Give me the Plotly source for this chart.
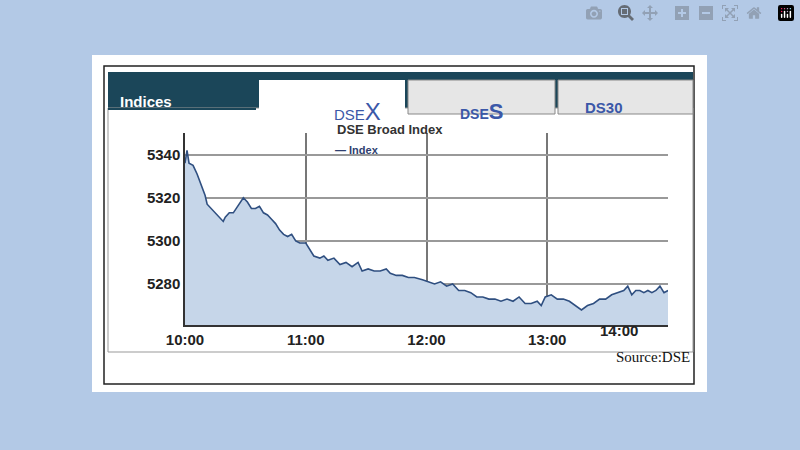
import plotly.graph_objects as go

times = ["10:00","10:01","10:02","10:04","10:06","10:08","10:10","10:11","10:13","10:15","10:17","10:19","10:20","10:22","10:24","10:26","10:28","10:29","10:31","10:33","10:35","10:37","10:39","10:41","10:43","10:45","10:47","10:49","10:51","10:53","10:55","10:57","11:00","11:02","11:04","11:07","11:09","11:11","11:14","11:17","11:20","11:23","11:26","11:28","11:31","11:34","11:37","11:40","11:42","11:45","11:48","11:51","11:54","11:58","12:01","12:04","12:07","12:10","12:13","12:16","12:19","12:22","12:25","12:28","12:31","12:34","12:37","12:40","12:43","12:46","12:49","12:52","12:55","12:57","12:59","13:02","13:05","13:08","13:11","13:14","13:17","13:20","13:23","13:26","13:29","13:32","13:35","13:38","13:40","13:42","13:44","13:46","13:48","13:50","13:52","13:54","13:56","13:58","14:00"]
values = [5336,5342,5336,5335,5331,5326,5321,5317,5315,5313,5311,5309,5311,5313,5313,5316,5319,5320,5318,5315,5315,5316,5313,5312,5310,5308,5305,5303,5302,5303,5300,5299,5299,5296,5293,5292,5293,5291,5292,5289,5290,5288,5290,5286,5287,5286,5286,5287,5285,5284,5284,5283,5283,5282,5281,5280,5281,5279,5280,5277,5277,5276,5274,5274,5273,5273,5272,5273,5272,5274,5271,5271,5272,5270,5274,5275,5273,5273,5272,5270,5268,5270,5271,5273,5273,5275,5276,5277,5279,5275,5277,5277,5276,5277,5276,5277,5279,5276,5277]
y_ticks = [5280, 5300, 5320, 5340]
x_tick_labels = ["10:00", "11:00", "12:00", "13:00"]

xs = ["2024-01-01 " + t for t in times]

L, R, T, B = 185, 668, 133, 325
def px(X): return (X - L) / (R - L)
def py(Y): return (B - Y) / (B - T)

fig = go.Figure()
fig.add_trace(go.Scatter(x=xs, y=values, mode="lines", fill="tozeroy",
                         fillcolor="#c6d6e9", line=dict(color="#2f4f80", width=1.6),
                         showlegend=False))

shapes = []
def rect(x0, y0, x1, y1, fill, line="rgba(0,0,0,0)", w=0, layer="below"):
    shapes.append(dict(type="rect", xref="paper", yref="paper", x0=px(x0), x1=px(x1),
                       y0=py(y1), y1=py(y0), fillcolor=fill, line=dict(color=line, width=w), layer=layer))

rect(92, 55, 707, 392, "white")
rect(104, 66, 694, 384, "rgba(0,0,0,0)", "#222", 1.5)
rect(108, 72, 693, 110, "#1b4659")
rect(108, 108, 693, 352, "white", "#999", 1)
rect(408, 80, 555, 114, "#e6e6e6", "#888", 1)
rect(558, 80, 693, 114, "#e6e6e6", "#888", 1)
rect(259, 80, 405, 116, "white")
rect(108, 108, 256, 110, "#1b4659")

fig.update_layout(
    width=800, height=450, paper_bgcolor="#b3c9e6", plot_bgcolor="rgba(0,0,0,0)",
    margin=dict(l=L, r=800 - R, t=T, b=450 - B),
    shapes=shapes,
    font=dict(family="Arial", color="#222"),
    xaxis=dict(range=["2024-01-01 10:00", "2024-01-01 14:00"], type="date",
               tickvals=["2024-01-01 " + t for t in x_tick_labels],
               ticktext=["<b>" + t + "</b>" for t in x_tick_labels],
               showgrid=True, gridcolor="#777", gridwidth=1.5, showline=True, linecolor="#333",
               linewidth=1.5, ticks="", tickfont=dict(size=15, color="#222"),
               fixedrange=True),
    yaxis=dict(range=[5261, 5350], tickvals=y_ticks, ticktext=["<b>%d</b>" % v for v in y_ticks],
               showgrid=True, gridcolor="#999", gridwidth=1.5,
               showline=True, linecolor="#333", linewidth=1.5, ticks="",
               tickfont=dict(size=15, color="#222"), zeroline=False),
)

ann = [
    dict(x=px(118), y=py(91), text="<b>Indices</b>", xanchor="left", font=dict(size=15, color="white")),
    dict(x=px(332), y=py(96), text="<span style='font-size:15px'>DSE</span><span style='font-size:24px'>X</span>", font=dict(color="#3b58a8")),
    dict(x=px(481), y=py(97), text="<b><span style='font-size:14px'>DSE</span><span style='font-size:22px'>S</span></b>", font=dict(color="#3b58a8")),
    dict(x=px(625), y=py(97), text="<b>DS30</b>", font=dict(size=15, color="#3b58a8")),
    dict(x=px(390), y=py(120), text="<b>DSE Broad Index</b>", font=dict(size=13, color="#333")),
    dict(x=px(357), y=py(142), text="<b>— Index</b>", font=dict(size=11, color="#2f3f70")),
    dict(x=px(640), y=py(341), text="<b>14:00</b>", font=dict(size=15, color="#222")),
    dict(x=px(692), y=py(367), text="Source:DSE", xanchor="right", font=dict(size=15, color="#111", family="Liberation Serif")),
]
for a in ann:
    a.update(xref="paper", yref="paper", showarrow=False)
fig.update_layout(annotations=ann)
fig.write_html("out.html", post_script="document.body.style.margin='0';document.body.style.padding='0';")
